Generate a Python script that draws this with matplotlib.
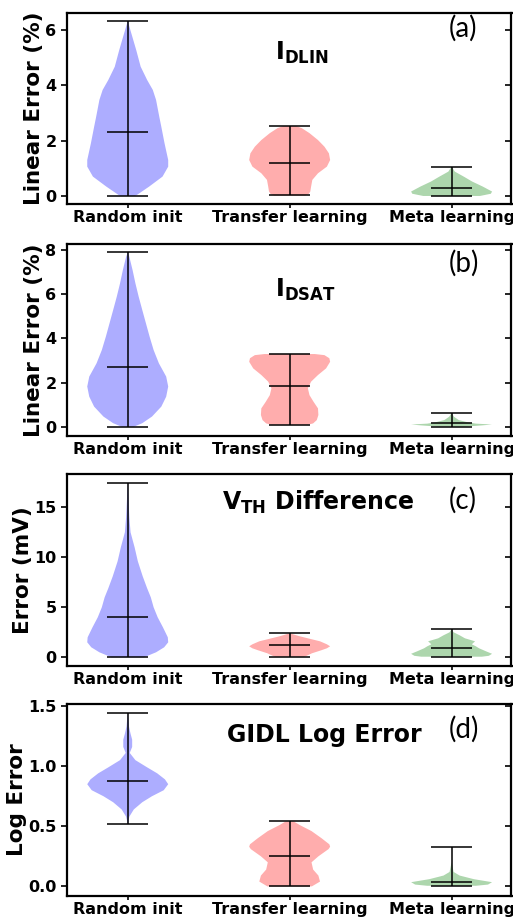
import matplotlib.pyplot as plt

plt.rcParams["font.family"] = "DejaVu Sans"
plt.rcParams["font.weight"] = "bold"
plt.rcParams["axes.labelweight"] = "bold"

groups = ["Random init", "Transfer learning", "Meta learning"]
body_colors = ["blue", "red", "green"]

# (a) I_DLIN linear error: violin outline as (error value, relative density)
dlin_rand_y = [0.0, 0.04, 0.34, 0.70, 1.06, 1.30, 1.90, 2.50, 2.86, 3.47, 3.83, 4.19, 4.67, 5.27, 5.87, 6.32]
dlin_rand_w = [0.18, 0.23, 0.53, 0.86, 1.0, 1.0, 0.91, 0.83, 0.78, 0.70, 0.62, 0.48, 0.32, 0.21, 0.09, 0.0]
dlin_trans_y = [0.02, 0.07, 0.16, 0.34, 0.58, 0.82, 1.06, 1.30, 1.54, 1.78, 2.02, 2.27, 2.45, 2.53]
dlin_trans_w = [0.38, 0.47, 0.51, 0.53, 0.56, 0.70, 0.92, 1.0, 0.97, 0.86, 0.70, 0.49, 0.30, 0.15]
dlin_meta_y = [0.0, 0.08, 0.16, 0.34, 0.52, 0.70, 0.88, 1.06]
dlin_meta_w = [0.70, 0.97, 1.0, 0.77, 0.51, 0.30, 0.08, 0.0]
dlin_mean = [2.32, 1.20, 0.27]
dlin_min = [0.0, 0.02, 0.0]
dlin_max = [6.32, 2.53, 1.06]

# (b) I_DSAT linear error
dsat_rand_y = [0.0, 0.16, 0.46, 0.91, 1.36, 1.82, 2.27, 2.87, 3.47, 4.08, 4.68, 5.28, 5.89, 6.49, 7.09, 7.69, 7.89]
dsat_rand_w = [0.15, 0.36, 0.60, 0.83, 0.95, 1.0, 0.95, 0.77, 0.64, 0.54, 0.45, 0.36, 0.27, 0.19, 0.12, 0.04, 0.0]
dsat_trans_y = [0.09, 0.15, 0.30, 0.53, 0.83, 1.13, 1.43, 1.74, 2.04, 2.34, 2.64, 2.94, 3.10, 3.24, 3.29]
dsat_trans_w = [0.45, 0.58, 0.67, 0.71, 0.70, 0.59, 0.49, 0.45, 0.53, 0.70, 0.90, 1.0, 0.98, 0.86, 0.62]
dsat_meta_y = [0.0, 0.06, 0.10, 0.14, 0.20, 0.30, 0.45, 0.62]
dsat_meta_w = [0.30, 0.75, 1.0, 0.60, 0.40, 0.18, 0.06, 0.0]
dsat_mean = [2.71, 1.86, 0.16]
dsat_min = [0.0, 0.09, 0.0]
dsat_max = [7.89, 3.29, 0.62]

# (c) V_TH difference in mV
vth_rand_y = [0.0, 0.5, 1.0, 1.5, 2.0, 3.0, 4.0, 5.0, 6.0, 6.9, 8.1, 9.6, 11.0, 12.5, 14.0, 15.7, 17.46]
vth_rand_w = [0.40, 0.70, 0.90, 1.0, 0.99, 0.87, 0.74, 0.64, 0.57, 0.48, 0.37, 0.25, 0.17, 0.07, 0.04, 0.02, 0.0]
vth_trans_y = [0.05, 0.15, 0.4, 0.7, 0.9, 1.1, 1.3, 1.6, 1.9, 2.1, 2.4]
vth_trans_w = [0.35, 0.42, 0.55, 0.78, 0.92, 1.0, 0.92, 0.75, 0.45, 0.25, 0.0]
vth_meta_y = [0.06, 0.15, 0.35, 0.6, 0.9, 1.1, 1.3, 1.6, 1.9, 2.2, 2.5, 2.8]
vth_meta_w = [0.75, 0.92, 1.0, 0.85, 0.68, 0.60, 0.50, 0.58, 0.33, 0.20, 0.05, 0.0]
vth_mean = [4.0, 1.23, 0.9]
vth_min = [0.0, 0.05, 0.05]
vth_max = [17.46, 2.4, 2.8]

# (d) GIDL log error
gidl_rand_y = [0.52, 0.58, 0.64, 0.70, 0.75, 0.80, 0.85, 0.89, 0.94, 0.99, 1.05, 1.11, 1.16, 1.22, 1.27, 1.33, 1.44]
gidl_rand_w = [0.0, 0.04, 0.15, 0.36, 0.60, 0.89, 1.0, 0.92, 0.73, 0.48, 0.19, 0.05, 0.11, 0.11, 0.07, 0.03, 0.0]
gidl_trans_y = [0.0, 0.04, 0.09, 0.14, 0.20, 0.25, 0.31, 0.33, 0.35, 0.40, 0.46, 0.51, 0.54]
gidl_trans_w = [0.55, 0.75, 0.71, 0.58, 0.54, 0.71, 0.96, 1.0, 0.98, 0.79, 0.54, 0.25, 0.10]
gidl_meta_y = [0.005, 0.015, 0.035, 0.06, 0.09, 0.12, 0.2, 0.33]
gidl_meta_w = [0.60, 0.90, 1.0, 0.55, 0.20, 0.05, 0.0, 0.0]
gidl_mean = [0.88, 0.25, 0.033]
gidl_min = [0.52, 0.0, 0.005]
gidl_max = [1.44, 0.54, 0.33]

panels = [
    dict(shapes=[(dlin_rand_y, dlin_rand_w), (dlin_trans_y, dlin_trans_w), (dlin_meta_y, dlin_meta_w)],
         mean=dlin_mean, lo=dlin_min, hi=dlin_max, ylabel="Linear Error (%)",
         title=r"$\mathbf{I_{DLIN}}$", tag="(a)", yticks=[0, 2, 4, 6], ylim=(-0.29, 6.61),
         rect=[67, 13, 204], title_xy=(0.528, 0.754), tag_xy=(0.892, 0.92)),
    dict(shapes=[(dsat_rand_y, dsat_rand_w), (dsat_trans_y, dsat_trans_w), (dsat_meta_y, dsat_meta_w)],
         mean=dsat_mean, lo=dsat_min, hi=dsat_max, ylabel="Linear Error (%)",
         title=r"$\mathbf{I_{DSAT}}$", tag="(b)", yticks=[0, 2, 4, 6, 8], ylim=(-0.42, 8.27),
         rect=[67, 244, 436], title_xy=(0.537, 0.724), tag_xy=(0.894, 0.90)),
    dict(shapes=[(vth_rand_y, vth_rand_w), (vth_trans_y, vth_trans_w), (vth_meta_y, vth_meta_w)],
         mean=vth_mean, lo=vth_min, hi=vth_max, ylabel="Error (mV)",
         title=r"$\mathbf{V_{TH}}$ Difference", tag="(c)", yticks=[0, 5, 10, 15], ylim=(-0.87, 18.33),
         rect=[67, 474, 666], title_xy=(0.564, 0.816), tag_xy=(0.89, 0.861)),
    dict(shapes=[(gidl_rand_y, gidl_rand_w), (gidl_trans_y, gidl_trans_w), (gidl_meta_y, gidl_meta_w)],
         mean=gidl_mean, lo=gidl_min, hi=gidl_max, ylabel="Log Error",
         title="GIDL Log Error", tag="(d)", yticks=[0.0, 0.5, 1.0, 1.5], ylim=(-0.08, 1.517),
         rect=[67, 704, 896], title_xy=(0.58, 0.80), tag_xy=(0.894, 0.869)),
]

W, H = 513, 918
fig = plt.figure(figsize=(W / 100, H / 100), dpi=100)
positions = [1, 2, 3]

for p in panels:
    left, top, bottom = p["rect"]
    ax = fig.add_axes([left / W, 1 - bottom / H, (511.5 - left) / W, (bottom - top) / H])

    stats = []
    for (ys, ws), m, lo, hi in zip(p["shapes"], p["mean"], p["lo"], p["hi"]):
        stats.append({"coords": ys, "vals": ws, "mean": m, "median": m, "min": lo, "max": hi})
    parts = ax.violin(stats, positions=positions, widths=0.5, showmeans=True, showextrema=True)

    for body, c in zip(parts["bodies"], body_colors):
        body.set_facecolor(c)
        body.set_edgecolor("none")
        body.set_alpha(0.32)
    for key in ["cbars", "cmins", "cmaxes", "cmeans"]:
        parts[key].set_color("black")
        parts[key].set_linewidth(1.1)

    ax.set_xlim(0.625, 3.37)
    ax.set_ylim(*p["ylim"])
    ax.set_yticks(p["yticks"])
    ax.set_xticks(positions)
    ax.set_xticklabels(groups)
    ax.tick_params(axis="both", labelsize=11.5, length=4, width=1.2)
    ax.tick_params(axis="x", length=3, pad=1.5)
    ax.tick_params(axis="y", right=True, which="both")
    for t in ax.yaxis.get_ticklines()[1::2]:
        t.set_marker(0)
    ax.set_ylabel(p["ylabel"], fontsize=15.5, labelpad=1)
    for s in ax.spines.values():
        s.set_linewidth(1.6)

    ax.text(*p["title_xy"], p["title"], transform=ax.transAxes, ha="center", va="baseline",
            fontsize=17, fontweight="bold")
    ax.text(*p["tag_xy"], p["tag"], transform=ax.transAxes, ha="center", va="center",
            fontsize=20, fontweight="normal", family="Lato")

fig.savefig("out.png", dpi=100)
